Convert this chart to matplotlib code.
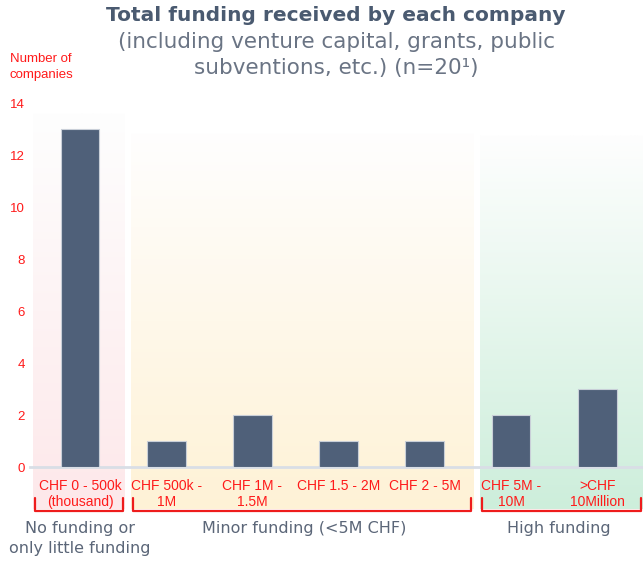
import matplotlib
matplotlib.use("Agg")
import matplotlib.pyplot as plt
import numpy as np
from matplotlib.colors import LinearSegmentedColormap

categories = ["CHF 0 - 500k\n(thousand)", "CHF 500k -\n1M", "CHF 1M -\n1.5M",
              "CHF 1.5 - 2M", "CHF 2 - 5M", "CHF 5M -\n10M", ">CHF\n10Million"]
values = [13, 1, 2, 1, 1, 2, 3]
y_ticks = [0, 2, 4, 6, 8, 10, 12, 14]
groups = ["No funding or\nonly little funding", "Minor funding (<5M CHF)", "High funding"]
group_ranges = [(0, 0), (1, 4), (5, 6)]
group_colors = ["#fde8ea", "#fff2d6", "#cdeedb"]

fig = plt.figure(figsize=(6.43, 5.61), dpi=100)
ax = fig.add_axes([30/643, 94/561, 613/643, 364/561])
x = np.arange(len(categories))
XL, XR = -0.58, 6.53

# panel extents in category units (left/right margin around group)
panel_x = [(-0.545, 0.52), (0.59, 4.56), (4.64, XR)]
panel_top = [13.6, 12.85, 12.75]
label_x = [0, 2.6, 5.55]

for (x0, x1), col, top, g, gx in zip(panel_x, group_colors, panel_top, groups, label_x):
    cmap = LinearSegmentedColormap.from_list("g", ["#fefefe", col])
    grad = np.linspace(0, 1, 256).reshape(-1, 1)
    ax.imshow(grad, cmap=cmap, aspect="auto", extent=(x0, x1, -1.6, top),
              origin="upper", clip_on=False, zorder=0, interpolation="bilinear")
    bx0, bx1 = x0 + 0.02, x1 - 0.02
    ax.plot([bx0, bx0, bx1, bx1], [-1.2, -1.68, -1.68, -1.2], color="#ee1c1c",
            lw=1.6, clip_on=False, zorder=3, solid_joinstyle="round",
            solid_capstyle="round")
    ax.text(gx, -2.08, g, ha="center", va="top", fontsize=11.5, color="#5b6678",
            family="DejaVu Sans", linespacing=1.4, clip_on=False)

ax.set_xlim(XL, XR)
ax.set_ylim(0, 14)

ax.bar(x, values, width=0.45, color="#4f6079", edgecolor="#c9cfd8", linewidth=0.8, zorder=2)

for xi, lab in zip(x, categories):
    ax.text(xi, -0.46, lab, ha="center", va="top", fontsize=10, color="#ff1a1a",
            family="Liberation Sans", linespacing=1.2, clip_on=False)

for sp in ["top", "right", "left"]:
    ax.spines[sp].set_visible(False)
ax.spines["bottom"].set_color("#d9dee6")
ax.spines["bottom"].set_linewidth(2)
ax.spines["bottom"].set_zorder(1)
ax.set_xticks([])
ax.set_yticks(y_ticks)
ax.set_yticklabels([str(t) for t in y_ticks], color="#ff1a1a", fontsize=9.5,
                   family="Liberation Sans")
ax.tick_params(axis="y", length=0, pad=3.5)

fig.text(10/643, 1 - 53/561, "Number of\ncompanies", color="#ff1a1a", fontsize=9.5,
         family="Liberation Sans", va="top", ha="left", linespacing=1.4)

fig.text(336/643, 1 - 6/561, "Total funding received by each company", ha="center",
         va="top", fontsize=14.5, fontweight="bold", color="#4a5a70", family="DejaVu Sans")
fig.text(336/643, 1 - 32/561, "(including venture capital, grants, public\nsubventions, etc.) (n=20\u00b9)",
         ha="center", va="top", fontsize=15.5, color="#6a7484", family="DejaVu Sans",
         linespacing=1.4)

fig.savefig("out.png", dpi=100)
